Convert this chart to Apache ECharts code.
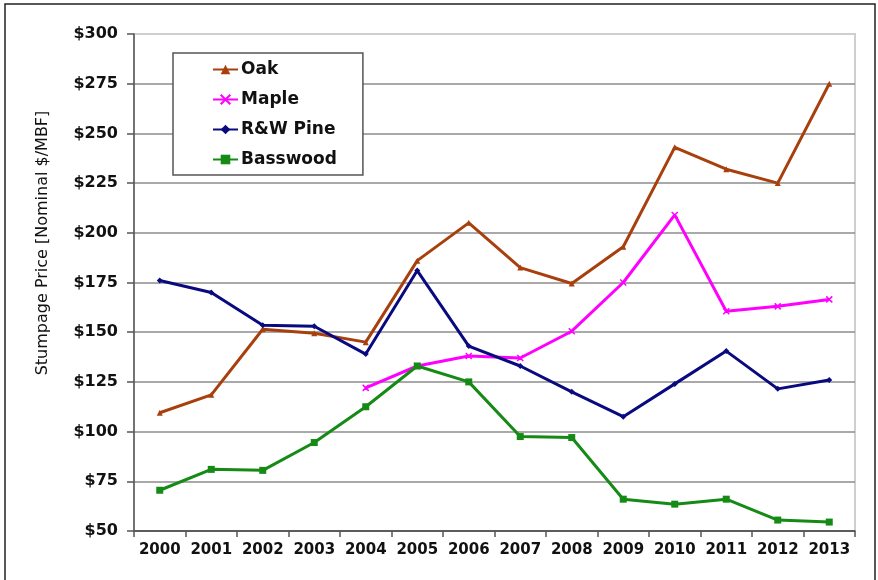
<!DOCTYPE html>
<html>
<head>
<meta charset="utf-8">
<script src="https://cdn.jsdelivr.net/npm/echarts@6/dist/echarts.min.js"></script>
<style>
  html, body { margin: 0; padding: 0; background: #fff; }
  #chart { width: 878px; height: 580px; }
</style>
</head>
<body>
<div id="chart"></div>
<script>
// data
var years = ['2000', '2001', '2002', '2003', '2004', '2005', '2006', '2007', '2008', '2009', '2010', '2011', '2012', '2013']
var oak = [109.5, 118.5, 151.5, 149.5, 145, 186, 205, 182.5, 174.5, 193, 243, 232, 225, 275]
var maple = [null, null, null, null, 122, 133, 138, 137, 150.5, 175, 209, 160.5, 163, 166.5]
var pine = [176, 170, 153.5, 153, 139, 181, 143, 133, 120, 107.5, 124, 140.5, 121.5, 126]
var basswood = [70.5, 81, 80.5, 94.5, 112.5, 133, 125, 97.5, 97, 66, 63.5, 66, 55.5, 54.5]
var seriesNames = ['Oak', 'Maple', 'R&W Pine', 'Basswood']
var yTicks = { min: 50, max: 300, interval: 25 }

var FONT = '"DejaVu Sans", "Liberation Sans", Arial, sans-serif'
var xMark = 'path://M0,0 L10,10 M10,0 L0,10 M0,0 L10,10 Z'

function line(name, data, color, symbol, size) {
    return {
        name: name,
        type: 'line',
        data: data,
        symbol: symbol,
        symbolSize: size,
        showSymbol: true,
        connectNulls: false,
        lineStyle: { color: color, width: 3 },
        itemStyle: { color: color, borderColor: color, borderWidth: symbol === xMark ? 1.5 : 0 },
        emphasis: { disabled: true }
    }
}

var chart = echarts.init(document.getElementById('chart'))
chart.setOption({
    animation: false,
    backgroundColor: '#fff',
    textStyle: { fontFamily: FONT },
    graphic: [
        {
            type: 'rect',
            shape: { x: 5, y: 4, width: 870, height: 580 },
            style: { fill: 'none', stroke: '#222', lineWidth: 1.5 },
            silent: true
        },
        {
            type: 'text',
            x: 43, y: 243,
            rotation: Math.PI / 2,
            style: {
                text: 'Stumpage Price [Nominal $/MBF]',
                font: '16px ' + FONT,
                fill: '#111',
                align: 'center',
                verticalAlign: 'middle'
            }
        }
    ],
    legend: {
        data: seriesNames,
        orient: 'vertical',
        left: 173,
        top: 53,
        padding: [8, 26, 7, 39],
        itemGap: 13,
        itemWidth: 25,
        itemHeight: 12,
        backgroundColor: '#fff',
        borderColor: '#555',
        borderWidth: 1.5,
        textStyle: { fontFamily: FONT, fontSize: 17, fontWeight: 'bold', color: '#111', padding: [0, 0, 0, -2] }
    },
    grid: { left: 134, top: 34, right: 23, bottom: 49, show: true, borderColor: '#cfcfcf', borderWidth: 2 },
    xAxis: {
        type: 'category',
        data: years,
        boundaryGap: true,
        axisLine: { lineStyle: { color: '#555', width: 1.5 } },
        axisTick: { show: true, interval: 0, length: 6, lineStyle: { color: '#555', width: 1.5 } },
        axisLabel: {
            interval: 0, hideOverlap: false,
            fontFamily: FONT, fontSize: 15, fontWeight: 'bold', color: '#111', margin: 12
        },
        splitLine: { show: false }
    },
    yAxis: {
        type: 'value',
        min: yTicks.min,
        max: yTicks.max,
        interval: yTicks.interval,
        axisLine: { show: true, lineStyle: { color: '#555', width: 1.5 } },
        axisTick: { show: true, length: 7, lineStyle: { color: '#555', width: 1.5 } },
        axisLabel: {
            fontFamily: FONT, fontSize: 16, fontWeight: 'bold', color: '#111', margin: 16,
            formatter: function (v) { return '$' + v }
        },
        splitLine: {
            lineStyle: {
                color: ['#555', '#8c8c8c', '#8c8c8c', '#8c8c8c', '#8c8c8c', '#8c8c8c',
                        '#8c8c8c', '#8c8c8c', '#8c8c8c', '#8c8c8c', '#cfcfcf'],
                width: 1.5
            }
        }
    },
    series: [
        line('Oak', oak, '#A8400E', 'triangle', 6),
        line('Maple', maple, '#FF00FF', xMark, 6),
        line('R&W Pine', pine, '#0A0A80', 'diamond', 6),
        line('Basswood', basswood, '#158A15', 'rect', 7)
    ]
})
</script>
</body>
</html>
